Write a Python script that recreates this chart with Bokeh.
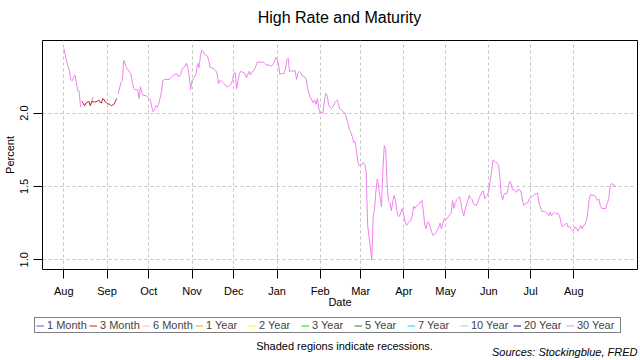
from bokeh.plotting import figure
from bokeh.layouts import column
from bokeh.models import Range1d, FixedTicker, Legend, LegendItem, Label
from bokeh.embed import file_html
from bokeh.resources import INLINE

# ---------------- data ----------------
# x values: days since 2019-08-01 ; y values: percent
start_date = "2019-08-01"
month_tick_days = [0, 31, 61, 92, 122, 153, 184, 213, 244, 274, 305, 335, 366]
month_tick_labels = ["Aug", "Sep", "Oct", "Nov", "Dec", "Jan", "Feb", "Mar",
                     "Apr", "May", "Jun", "Jul", "Aug"]
y_ticks = [1.0, 1.5, 2.0]

maturities = ["1 Month", "3 Month", "6 Month", "1 Year", "2 Year", "3 Year",
              "5 Year", "7 Year", "10 Year", "20 Year", "30 Year"]
maturity_colors = ["#9b30ff", "#d81818", "#ffb6c1", "#ffa500", "#ffff00", "#00e000",
                   "#1e8b1e", "#00e5ee", "#a4c8e8", "#0000cd", "#ee82ee"]
line_color_3m = "#b22222"

# 30 Year was the highest rate (several stretches)
y30_aug = [(0, 2.44), (1, 2.40), (2, 2.35), (3, 2.32), (4, 2.29), (5, 2.23), (6, 2.22),
           (7, 2.245), (8, 2.26), (9, 2.21), (10, 2.15), (11, 2.15), (12, 2.04)]
y30_short = [(20, 2.08), (21, 2.11)]
y30_fall = [(39, 2.13), (41, 2.21), (42, 2.22), (43, 2.36), (44, 2.34), (45, 2.31), (46, 2.295),
            (48, 2.27), (49, 2.22), (50, 2.17), (51, 2.16), (52, 2.16), (53, 2.16), (54, 2.10),
            (55, 2.18), (56, 2.14), (57, 2.12), (59, 2.12), (61, 2.10), (62, 2.09), (64, 2.01),
            (65, 2.02), (66, 2.05), (67, 2.04), (68, 2.06), (70, 2.14), (71, 2.22), (72, 2.23),
            (76, 2.23), (77, 2.245), (79, 2.26), (81, 2.27), (82, 2.25), (83, 2.25), (84, 2.27),
            (85, 2.30), (87, 2.32), (88, 2.34), (89, 2.31), (90, 2.25), (91, 2.16), (92, 2.22),
            (93, 2.235), (94, 2.25), (95, 2.27), (96, 2.34), (97, 2.31), (98, 2.385), (99, 2.43),
            (100, 2.42), (101, 2.40), (103, 2.39), (104, 2.36), (105, 2.31), (106, 2.31),
            (108, 2.30), (109, 2.29), (110, 2.27), (111, 2.20), (112, 2.22), (113, 2.22),
            (114, 2.21), (115, 2.20), (117, 2.18), (118, 2.18), (119, 2.19), (120, 2.20),
            (121, 2.22), (122, 2.27), (123, 2.275), (124, 2.165), (125, 2.22), (126, 2.27),
            (127, 2.285), (128, 2.28), (130, 2.27), (131, 2.24), (133, 2.285), (134, 2.26),
            (135, 2.28), (137, 2.30), (138, 2.325), (139, 2.35), (141, 2.345), (143, 2.35)]
y30_winter = [(144, 2.34), (145, 2.33), (148, 2.325), (149, 2.32), (150, 2.33), (151, 2.345),
              (152, 2.38), (153, 2.365), (154, 2.34), (155, 2.265), (156, 2.27), (158, 2.27),
              (159, 2.30), (160, 2.36), (161, 2.375), (162, 2.28), (163, 2.29), (165, 2.285),
              (166, 2.29), (167, 2.23), (168, 2.27), (169, 2.285), (170, 2.275), (171, 2.255),
              (173, 2.245), (174, 2.23), (175, 2.165), (176, 2.13), (177, 2.105), (179, 2.07),
              (180, 2.09), (181, 2.06), (182, 2.10), (183, 2.03), (184, 2.00), (185, 2.005),
              (186, 2.00), (187, 2.085), (188, 2.135), (189, 2.12), (190, 2.06), (191, 2.04),
              (192, 2.03), (193, 2.04), (195, 2.08), (196, 2.09), (197, 2.065), (198, 2.03),
              (200, 2.015), (201, 2.006), (202, 1.995), (203, 1.96), (204, 1.93), (205, 1.886),
              (206, 1.87), (207, 1.84), (208, 1.80), (209, 1.805), (210, 1.75), (211, 1.665),
              (212, 1.64), (213, 1.65), (214, 1.65), (215, 1.665), (216, 1.65), (217, 1.60),
              (218, 1.24), (221, 1.00), (222, 1.29), (223, 1.35), (224, 1.47), (225, 1.55),
              (228, 1.36), (229, 1.62), (230, 1.78), (231, 1.75), (232, 1.52), (233, 1.40),
              (234, 1.39), (235, 1.335), (236, 1.39), (237, 1.44), (238, 1.41), (239, 1.335),
              (240, 1.295), (241, 1.30), (242, 1.325), (243, 1.35), (244, 1.30)]
y30_spring = [(245, 1.256), (246, 1.235), (247, 1.25), (249, 1.27), (250, 1.30), (251, 1.365),
              (252, 1.35), (253, 1.365), (255, 1.38), (257, 1.405), (258, 1.335), (259, 1.24),
              (260, 1.21), (261, 1.26), (262, 1.25), (263, 1.22), (264, 1.19), (265, 1.165),
              (266, 1.175), (268, 1.20), (269, 1.22), (270, 1.25), (271, 1.21), (272, 1.25),
              (273, 1.28), (274, 1.275), (275, 1.28), (276, 1.295), (278, 1.32), (279, 1.405),
              (280, 1.35), (281, 1.39), (282, 1.41), (284, 1.43), (285, 1.39), (286, 1.335),
              (287, 1.30), (288, 1.345), (290, 1.405), (291, 1.44), (292, 1.42), (293, 1.41),
              (294, 1.38), (296, 1.37), (297, 1.39), (298, 1.42), (299, 1.44), (300, 1.46),
              (301, 1.47), (302, 1.415), (303, 1.43), (304, 1.44), (305, 1.47), (306, 1.54),
              (307, 1.60), (308, 1.68), (310, 1.665), (311, 1.66), (312, 1.645), (313, 1.56),
              (314, 1.44), (315, 1.41), (316, 1.45), (318, 1.45), (319, 1.495), (320, 1.535)]
y30_summer = [(321, 1.52), (322, 1.48), (324, 1.47), (325, 1.46), (326, 1.48), (328, 1.47),
              (329, 1.415), (330, 1.37), (331, 1.38), (333, 1.39), (334, 1.415), (336, 1.43),
              (337, 1.44), (339, 1.45), (340, 1.455), (341, 1.39), (342, 1.36), (343, 1.33),
              (345, 1.33), (346, 1.325), (347, 1.315), (348, 1.30), (349, 1.325), (350, 1.30),
              (351, 1.315), (352, 1.325), (353, 1.315), (355, 1.315), (356, 1.29), (357, 1.245),
              (358, 1.225), (359, 1.235), (360, 1.245), (361, 1.25), (362, 1.22), (363, 1.23),
              (364, 1.21), (365, 1.20), (366, 1.205), (367, 1.225), (368, 1.21), (369, 1.195),
              (370, 1.215), (371, 1.235), (372, 1.21), (373, 1.235), (374, 1.24), (375, 1.27),
              (376, 1.325), (377, 1.41), (378, 1.445), (379, 1.44), (381, 1.44), (382, 1.42),
              (383, 1.405), (384, 1.415), (385, 1.37), (386, 1.35), (389, 1.35), (390, 1.39),
              (391, 1.41), (392, 1.495), (393, 1.52), (395, 1.51), (396, 1.495)]

# 3 Month was the highest rate (late Aug - early Sep 2019)
m3_points = [(13, 2.08), (14, 2.065), (15, 2.05), (16, 2.07), (18, 2.08), (19, 2.05), (20, 2.08),
             (22, 2.075), (24, 2.08), (25, 2.09), (26, 2.075), (27, 2.07), (28, 2.10),
             (29, 2.09), (30, 2.075), (31, 2.065), (33, 2.06), (34, 2.05), (35, 2.055),
             (36, 2.06), (37, 2.08), (38, 2.10)]

# ---------------- build series ----------------
def with_gaps(*segments):
    xs, ys = [], []
    for i, seg in enumerate(segments):
        if i > 0:
            xs.append(float("nan")); ys.append(float("nan"))
        xs.extend(d for d, _ in seg); ys.extend(v for _, v in seg)
    return xs, ys

y30_x, y30_y = with_gaps(y30_aug, y30_short, y30_fall + y30_winter + y30_spring + y30_summer)
m3_x, m3_y = with_gaps(m3_points)

FONT = "Liberation Sans"
W = 640
HEAD_H = 38               # title strip
FRAME_TOP, FRAME_BOTTOM = 40, 269
P_BORDER_BOTTOM = 45
P_H = (FRAME_TOP - HEAD_H) + (FRAME_BOTTOM - FRAME_TOP) + P_BORDER_BOTTOM
FOOT_TOP = HEAD_H + P_H
FOOT_H = 360 - FOOT_TOP


def blank_strip(height, y_top):
    f = figure(width=W, height=height, output_backend="svg", toolbar_location=None,
               x_range=Range1d(0, W), y_range=Range1d(y_top + height, y_top),
               x_axis_location=None, y_axis_location=None,
               min_border_left=0, min_border_right=0, min_border_top=0, min_border_bottom=0)
    f.frame_align = False
    f.grid.visible = False
    f.outline_line_color = None
    f.background_fill_color = "white"
    f.border_fill_color = "white"
    return f


# ---------------- title strip ----------------
t = blank_strip(HEAD_H, 0)
t.add_layout(Label(x=339, y=17, text="High Rate and Maturity",
                   text_align="center", text_baseline="middle",
                   text_font=FONT, text_font_size="16px", text_color="black"))

# ---------------- main chart ----------------
p = figure(width=W, height=P_H, output_backend="svg", toolbar_location=None,
           x_range=Range1d(-15.3, 411.7), y_range=Range1d(0.934, 2.495),
           min_border_left=41, min_border_right=3, min_border_top=FRAME_TOP - HEAD_H,
           min_border_bottom=P_BORDER_BOTTOM)
p.background_fill_color = "white"
p.border_fill_color = "white"
p.outline_line_color = "black"
p.outline_line_width = 1

p.xgrid.ticker = FixedTicker(ticks=month_tick_days)
p.ygrid.ticker = FixedTicker(ticks=y_ticks)
for g in (p.xgrid, p.ygrid):
    g.grid_line_color = "#c4c4c4"
    g.grid_line_dash = "3 3"
    g.grid_line_width = 1

p.xaxis.ticker = FixedTicker(ticks=month_tick_days)
p.xaxis.major_label_overrides = {d: lbl for d, lbl in zip(month_tick_days, month_tick_labels)}
p.yaxis.ticker = FixedTicker(ticks=y_ticks)
p.yaxis.major_label_overrides = {t_: f"{t_:.1f}" for t_ in y_ticks}
p.yaxis.major_label_orientation = "vertical"
for ax in (p.xaxis, p.yaxis):
    ax.axis_line_color = None
    ax.minor_tick_line_color = None
    ax.major_tick_in = 0
    ax.major_tick_out = 9
    ax.major_tick_line_color = "black"
    ax.major_label_text_font = FONT
    ax.major_label_text_font_size = "11px"
    ax.major_label_text_color = "black"
    ax.axis_label_text_font = FONT
    ax.axis_label_text_font_size = "11px"
    ax.axis_label_text_font_style = "normal"
    ax.axis_label_text_color = "black"
p.xaxis.major_label_standoff = 6
p.yaxis.major_label_standoff = 5
p.xaxis.axis_label = "Date"
p.xaxis.axis_label_standoff = -4
p.yaxis.axis_label = "Percent"
p.yaxis.axis_label_standoff = 2

p.line(y30_x, y30_y, line_color=maturity_colors[-1], line_width=1)
p.line(m3_x, m3_y, line_color=line_color_3m, line_width=1)

# ---------------- legend and notes strip (page-pixel coordinates) ----------------
q = blank_strip(FOOT_H, FOOT_TOP)
items = []
for name, col in zip(maturities, maturity_colors):
    r = q.line(x=[-100, -90], y=[0, 0], line_color=col, line_width=1)
    items.append(LegendItem(label=name, renderers=[r]))
legend = Legend(items=items, orientation="horizontal", location=(34, 360 - 333),
                margin=0, padding=1, spacing=0, glyph_width=8, glyph_height=11,
                label_standoff=3, label_width=42, label_height=11,
                label_text_font=FONT, label_text_font_size="11px",
                border_line_color="black", border_line_width=1,
                background_fill_color="white", background_fill_alpha=1)
q.add_layout(legend)

q.add_layout(Label(x=344, y=345, text="Shaded regions indicate recessions.",
                   text_align="center", text_baseline="middle",
                   text_font=FONT, text_font_size="11px", text_color="black"))
q.add_layout(Label(x=637, y=351, text="Sources: Stockingblue, FRED", text_font_style="italic",
                   text_align="right", text_baseline="middle",
                   text_font=FONT, text_font_size="11px", text_color="black"))

layout = column(t, p, q, spacing=0)
open("out.html", "w").write(file_html(layout, INLINE))
